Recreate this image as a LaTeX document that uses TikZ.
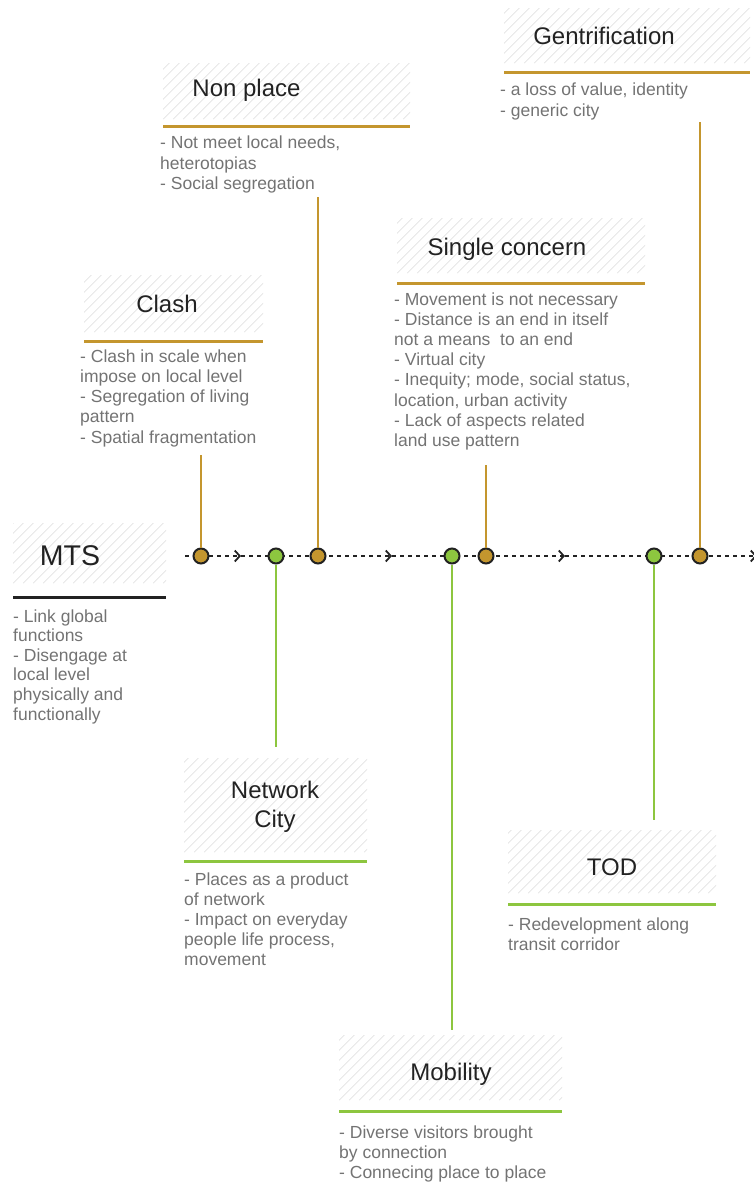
\documentclass[tikz,border=0pt]{standalone}
\usepackage{fontspec}
\setmainfont{Liberation Sans}
\usetikzlibrary{arrows.meta,positioning}
\definecolor{gold}{HTML}{C4962E}
\definecolor{leaf}{HTML}{8DC63F}
\definecolor{txtgray}{HTML}{737373}
\definecolor{hatchgray}{HTML}{E3E3E3}
\definecolor{ink}{HTML}{222222}

\begin{document}
\begin{tikzpicture}[x=1pt,y=-1pt,
  hatchbox/.style={inner sep=0, anchor=north west, path picture={
    \foreach \k in {-130,-120,...,260}
      \draw[hatchgray,line width=0.6pt] ([xshift=\k pt]path picture bounding box.south west) -- ++(140pt,140pt);}},
  title/.style={inner sep=0, anchor=base, text=ink, align=center, font=\fontsize{24}{29}\selectfont},
  notes/.style={inner sep=0, anchor=base west, text=txtgray, align=left, font=\fontsize{17.5}{20.2}\selectfont},
  rule/.style={line width=3pt},
  dot/.style={circle, draw=ink, line width=2pt, minimum size=15pt, inner sep=0},
  link/.style={line width=1.5pt},
  timeline/.style={ink, line width=1.6pt, dash pattern=on 4pt off 4pt,
    -{Straight Barb[length=5pt,width=11pt,line width=1.8pt]}}]
  \useasboundingbox (0,0) rectangle (754,1182);

  % boxes
  \node[hatchbox, minimum width=153, minimum height=60] (mtsbox) at (13,523) {};
  \node[hatchbox, minimum width=179, minimum height=57] (clbox) at (84,275) {};
  \node[hatchbox, minimum width=247, minimum height=56] (npbox) at (163,63) {};
  \node[hatchbox, minimum width=246, minimum height=55] (gebox) at (504,8) {};
  \node[hatchbox, minimum width=248, minimum height=55] (scbox) at (397,218) {};
  \node[hatchbox, minimum width=183, minimum height=94] (ncbox) at (184,758) {};
  \node[hatchbox, minimum width=208, minimum height=63] (tdbox) at (508,830) {};
  \node[hatchbox, minimum width=223, minimum height=65] (mobox) at (339,1035) {};

  \node[title, font=\fontsize{28.5}{34}\selectfont] (mts) at (70,565) {MTS};
  \node[title] (clash) at (167,312) {Clash};
  \node[title] (nonplace) at (246.5,97) {Non place};
  \node[title] (gentri) at (604,45) {Gentrification};
  \node[title] (single) at (507,255) {Single concern};
  \node[title] (netcity) at (275,827) {Network\\City};
  \node[title] (tod) at (612,875) {TOD};
  \node[title] (mobility) at (451,1080) {Mobility};

  \draw[rule,ink] (13,597) -- (166,597);
  \draw[rule,gold] (84,341) -- (263,341);
  \draw[rule,gold] (163,127) -- (410,127);
  \draw[rule,gold] (504,73) -- (750,73);
  \draw[rule,gold] (397,283) -- (645,283);
  \draw[rule,leaf] (184,861) -- (367,861);
  \draw[rule,leaf] (508,904) -- (716,904);
  \draw[rule,leaf] (339,1111) -- (562,1111);

  % notes (anchored on the baseline of their last line)
  \node[notes, font=\fontsize{17.5}{19.6}\selectfont] (mtsnotes) at (13,720)
    {- Link global\\functions\\- Disengage at\\local level\\physically and\\functionally};
  \node[notes] (clnotes) at (80,443)
    {- Clash in scale when\\impose on local level\\- Segregation of living\\pattern\\- Spatial fragmentation};
  \node[notes] (npnotes) at (160,189.4)
    {- Not meet local needs,\\heterotopias\\- Social segregation};
  \node[notes] (genotes) at (500,116.2)
    {- a loss of value, identity\\- generic city};
  \node[notes] (scnotes) at (394,446.4)
    {- Movement is not necessary\\- Distance is an end in itself\\not a means\ \ to an end\\- Virtual city\\- Inequity; mode, social status,\\location, urban activity\\- Lack of aspects related\\land use pattern};
  \node[notes] (ncnotes) at (184,965.8)
    {- Places as a product\\of network\\- Impact on everyday\\people life process,\\movement};
  \node[notes] (tdnotes) at (508,950.2)
    {- Redevelopment along\\transit corridor};
  \node[notes] (monotes) at (339,1178.4)
    {- Diverse visitors brought\\by connection\\- Connecing place to place};

  % timeline
  \coordinate (tl0) at (185,556);
  \coordinate (ar1) at (241,556);
  \coordinate (ar2) at (392,556);
  \coordinate (ar3) at (565,556);
  \coordinate (ar4) at (757,556);
  \foreach \a/\b in {tl0/ar1,ar1/ar2,ar2/ar3,ar3/ar4}
    \draw[timeline] (\a) -- (\b);

  \coordinate (clend) at (201,455);
  \coordinate (npend) at (318,197);
  \coordinate (scend) at (486,465);
  \coordinate (geend) at (700,122);
  \coordinate (ncend) at (276,747);
  \coordinate (moend) at (452,1030);
  \coordinate (tdend) at (654,820);

  \node[dot, fill=gold] (dclash) at (201,556) {};
  \node[dot, fill=leaf] (dnet) at (276,556) {};
  \node[dot, fill=gold] (dnon) at (318,556) {};
  \node[dot, fill=leaf] (dmob) at (452,556) {};
  \node[dot, fill=gold] (dsingle) at (486,556) {};
  \node[dot, fill=leaf] (dtod) at (654,556) {};
  \node[dot, fill=gold] (dgent) at (700,556) {};

  \draw[link,gold] (dclash) -- (clend);
  \draw[link,gold] (dnon) -- (npend);
  \draw[link,gold] (dsingle) -- (scend);
  \draw[link,gold] (dgent) -- (geend);
  \draw[link,leaf] (dnet) -- (ncend);
  \draw[link,leaf] (dmob) -- (moend);
  \draw[link,leaf] (dtod) -- (tdend);
\end{tikzpicture}
\end{document}
